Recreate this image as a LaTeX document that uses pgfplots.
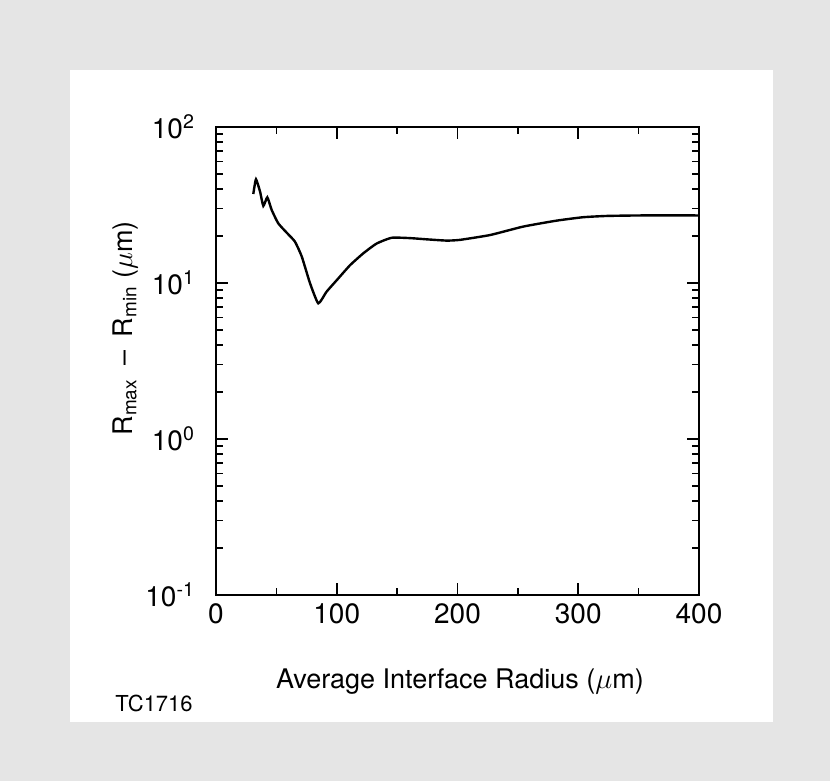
\documentclass[border=0pt]{standalone}
\usepackage{fontspec}
\setmainfont{TeX Gyre Heros}
\usepackage{pgfplots}
\pgfplotsset{compat=1.18}
\begin{document}
\begin{tikzpicture}[x=1pt,y=1pt]
\useasboundingbox (0,0) rectangle (415,390.5);
\fill[black!10] (0,0) rectangle (415,390.5);
\fill[white] (35,29.5) rectangle (386.5,355.5);
\begin{axis}[
  at={(108pt,93pt)}, anchor=south west,
  scale only axis, width=241.5pt, height=234pt,
  xmin=0, xmax=400, ymode=log, ymin=0.1, ymax=100,
  xtick={0,100,200,300,400}, minor xtick={50,150,250,350},
  ytick={0.1,1,10,100},
  yticklabels={10\textsuperscript{-1},10\textsuperscript{0},10\textsuperscript{1},10\textsuperscript{2}},
  xticklabels={0,100,200,300,400},
  tick align=inside, major tick length=6pt, minor tick length=3.5pt,
  axis line style={line width=0.9pt}, tick style={line width=0.8pt, black},
  font=\fontsize{14}{16}\selectfont,
  yticklabel style={xshift=-7pt},
  xticklabel style={yshift=-1pt},
  xlabel={Average Interface Radius ($\mu$m)},
  ylabel={R\textsubscript{max}\hspace{0.5em}--\hspace{0.5em}R\textsubscript{min} ($\mu$m)},
  every axis x label/.style={at={(axis description cs:0.505,-0.184)}, anchor=center},
  every axis y label/.style={at={(axis description cs:-0.188,0.57)}, anchor=center, rotate=90},
  label style={font=\fontsize{13.5}{16}\selectfont},
]
\addplot[black, line width=1.2pt, smooth, tension=0.3] coordinates {
(30.9,37.2) (33.1,46.2) (36.5,38.5) (39.2,31.2) (42.5,35.4) (46.1,29.4)
(51.6,24.1) (59.1,20.8) (65.4,18.4) (71.0,14.8) (77.8,10.0) (84.7,7.41)
(91.6,8.8) (101.3,10.7) (111,13.0) (122,15.5) (133,17.9) (145.5,19.5)
(160.7,19.4) (174.5,19.05) (191,18.7) (202,18.9) (227,20.3) (254.5,23.0)
(282,25.1) (304,26.4) (323.5,26.9) (351,27.1) (400,27.1)
};
\end{axis}
\node[anchor=west, inner sep=0pt, font=\fontsize{11}{13}\selectfont] at (57.5,39) {TC1716};
\end{tikzpicture}
\end{document}
